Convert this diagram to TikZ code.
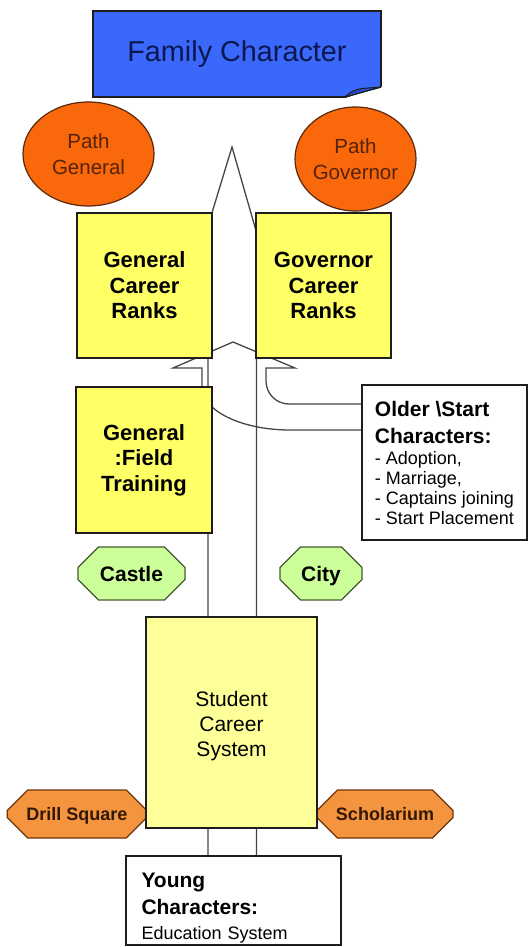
\documentclass[tikz,border=0pt]{standalone}
\usepackage{fontspec}
\setmainfont{Liberation Sans}
\usetikzlibrary{shapes.misc,shapes.geometric}
\pgfdeclarelayer{background}
\pgfsetlayers{background,main}

\definecolor{famblue}{RGB}{58,104,250}
\definecolor{famfold}{RGB}{40,75,200}
\definecolor{famtext}{RGB}{12,22,80}
\definecolor{pathorange}{RGB}{250,104,12}
\definecolor{pathtext}{RGB}{85,35,10}
\definecolor{ovaledge}{RGB}{90,40,10}
\definecolor{rankyellow}{RGB}{255,255,102}
\definecolor{studyellow}{RGB}{255,255,153}
\definecolor{placegreen}{RGB}{204,255,153}
\definecolor{greenedge}{RGB}{70,90,50}
\definecolor{siteorange}{RGB}{245,148,62}
\definecolor{orangeedge}{RGB}{110,55,10}
\definecolor{sitetext}{RGB}{50,25,5}
\definecolor{edge}{RGB}{30,30,30}
\definecolor{arrowgray}{RGB}{70,70,70}

\newcommand{\hd}{\bfseries\fontsize{21}{27}\selectfont}

\begin{document}
\begin{tikzpicture}[x=1pt,y=-1pt,
  every node/.style={inner sep=0pt},
  outline/.style={draw=edge, line width=1.4pt},
  blockarrow/.style={draw=arrowgray, line width=1.3pt, line join=miter},
  notebox/.style={outline, fill=famblue, minimum width=288, minimum height=86,
    text=famtext, font=\fontsize{28.8}{34}\selectfont},
  pathoval/.style={ellipse, draw=ovaledge, line width=1.2pt, fill=pathorange,
    text=pathtext, align=center, font=\fontsize{20.5}{26}\selectfont},
  rankbox/.style={outline, fill=rankyellow, align=center,
    font=\bfseries\fontsize{22}{25.5}\selectfont},
  studentbox/.style={outline, fill=studyellow, align=center,
    font=\fontsize{21}{25}\selectfont},
  placeocto/.style={chamfered rectangle, draw=greenedge, line width=1.2pt,
    fill=placegreen, font=\bfseries\fontsize{21}{25}\selectfont,
    text height=15pt, text depth=0pt,
    chamfered rectangle xsep=14pt, chamfered rectangle ysep=13pt},
  siteocto/.style={chamfered rectangle, draw=orangeedge, line width=1.2pt,
    fill=siteorange, text=sitetext, font=\bfseries\fontsize{18}{22}\selectfont,
    text height=13pt, text depth=0pt,
    chamfered rectangle xsep=17pt, chamfered rectangle ysep=14pt},
  infobox/.style={outline, fill=white, font=\fontsize{18}{27}\selectfont},
]
\useasboundingbox (0,0) rectangle (531,947);

% title note with a curled lower right corner
\node[notebox] (family) at (237,54) {Family Character};
\fill[white] (382.5,86.5) -- (382.5,98.8) -- (343,98.8) -- cycle;
\draw[edge, line width=1.4pt] (344,97) -- (381,87);
\filldraw[draw=edge, line width=1pt, fill=famfold]
  (345,97) .. controls (350,92) and (355,89.5) .. (362,88.5) -- (381,87) -- cycle;

% career paths
\node[pathoval, minimum width=131, minimum height=104] (pgen) at (88.5,154) {Path\\General};
\node[pathoval, minimum width=121, minimum height=104] (pgov) at (355.5,159) {Path\\Governor};

% rank boxes
\node[rankbox, minimum width=135, minimum height=145] (genranks) at (144.5,285.5) {General\\Career\\Ranks};
\node[rankbox, minimum width=135, minimum height=145] (govranks) at (323.5,285.5) {Governor\\Career\\Ranks};
\node[rankbox, minimum width=136, minimum height=146] (field) at (144,460) {General\\:Field\\Training};

% late entry
\node[infobox, align=left, minimum width=165, minimum height=155] (older) at (444.5,462.5)
  {{\hd Older \textbackslash Start}\\{\hd Characters:}\\[-6pt]- Adoption,\\[-7pt]- Marriage,\\[-7pt]- Captains joining\\[-7pt]- Start Placement};

% places
\node[placeocto, minimum width=107, minimum height=53] (castle) at (131.5,573.5) {Castle};
\node[placeocto, minimum width=82, minimum height=53] (city) at (321,573.5) {City};
\node[siteocto, minimum width=139.5, minimum height=48] (drill) at (77,814) {Drill Square};
\node[siteocto, minimum width=136, minimum height=48] (scholar) at (385,814) {Scholarium};

% education
\node[studentbox, minimum width=171, minimum height=211] (student) at (231.5,722.5) {\rule{0pt}{23pt}Student\\Career\\System};
\node[infobox, text width=184, inner xsep=15.6, align=left, minimum width=215, minimum height=89] (young) at (233.5,900.5)
  {\rule{0pt}{29pt}{\hd Young}\\{\hd Characters:}\\[-2pt]Education System};

\coordinate (tip) at (232,147);

\begin{pgfonlayer}{background}
  \fill[white] (0,0) rectangle (531,947);
  % main progression arrow
  \draw[blockarrow] (208,0 |- young.north) -- (208,262) -- (197,262) -- (tip)
    -- (265,262) -- (256.5,262) -- (256.5,0 |- young.north);
  % late entry arrow bending up into the ranks
  \draw[blockarrow] (older.west |- 0,404) -- (289,404)
    .. controls (276.3,404) and (266,393.7) .. (266,381) -- (266,368) -- (295,368)
    -- (233,342) -- (173,368) -- (202,368) -- (202,387)
    .. controls (202,410.7) and (241.4,430) .. (290,430) -- (older.west |- 0,430);
\end{pgfonlayer}
\end{tikzpicture}
\end{document}
